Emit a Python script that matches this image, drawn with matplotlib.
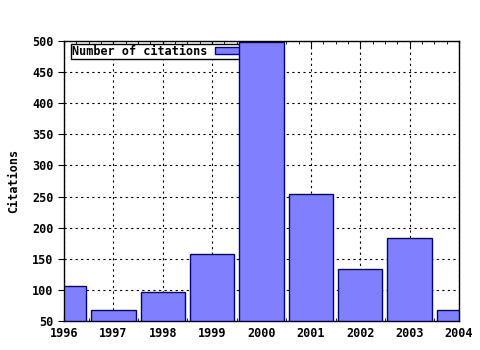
import matplotlib
matplotlib.use('Agg')
import matplotlib.pyplot as plt
import numpy as np
from matplotlib.ticker import MultipleLocator

years = [1996, 1997, 1998, 1999, 2000, 2001, 2002, 2003, 2004]
citations = [107, 68, 96, 157, 499, 254, 133, 183, 67]
yticks = [50, 100, 150, 200, 250, 300, 350, 400, 450, 500]

plt.rcParams['font.family'] = 'DejaVu Sans Mono'
plt.rcParams['font.size'] = 8.5
plt.rcParams['font.weight'] = 'bold'

fig = plt.figure(figsize=(4.8, 3.5), dpi=100)
ax = fig.add_axes([64/480, 1 - 321/350, (459-64)/480, (321-41)/350])

ax.bar(years, citations, width=0.9, color='#8080ff', edgecolor='#000080',
       linewidth=1, label='Number of citations', zorder=3)

ax.set_xlim(1996, 2004)
ax.set_ylim(50, 500)
ax.set_xticks(years)
ax.set_yticks(yticks)
ax.xaxis.set_minor_locator(MultipleLocator(0.25))
ax.tick_params(axis='x', which='major', direction='in', length=4, top=True, pad=4)
ax.tick_params(axis='x', which='minor', direction='in', length=2, top=True)
ax.tick_params(axis='y', which='major', direction='out', length=4)
ax.grid(True, which='major', linestyle=(0, (2, 3)), color='black', linewidth=0.8, zorder=1)
ax.set_axisbelow(True)
for s in ax.spines.values():
    s.set_linewidth(1)
    s.set_zorder(4)

ax.set_ylabel('Citations', labelpad=9, fontweight='bold')

leg = ax.legend(loc='upper left', bbox_to_anchor=(0.018, 0.99), markerfirst=False,
                fancybox=False, edgecolor='black', framealpha=1, handlelength=3.2,
                handleheight=0.5, borderpad=0.1, borderaxespad=0, handletextpad=0.6)
leg.get_frame().set_linewidth(1)
leg.set_zorder(2)

fig.savefig('out.png', dpi=100)
